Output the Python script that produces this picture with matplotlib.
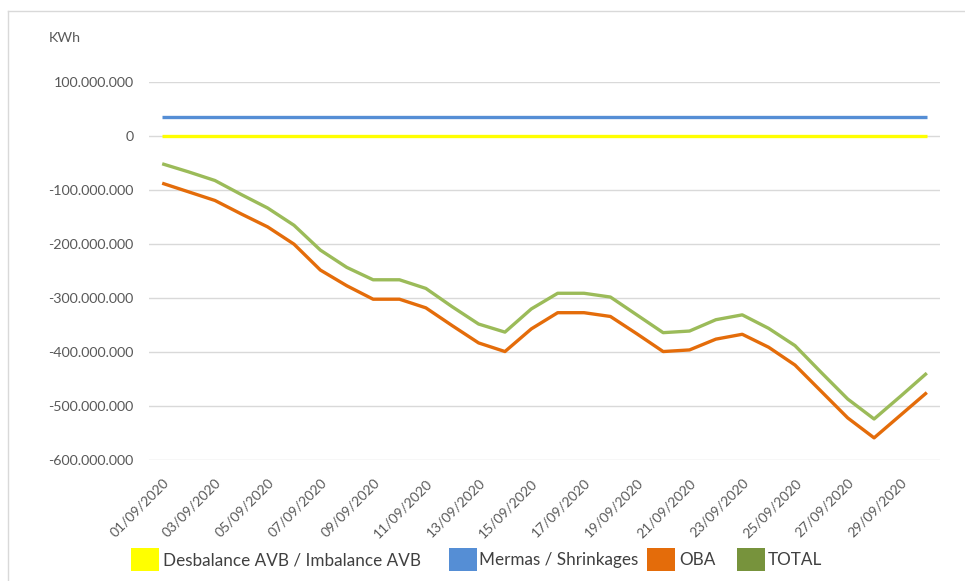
import matplotlib
matplotlib.use("Agg")
import matplotlib.pyplot as plt
from matplotlib.patches import Rectangle
from matplotlib.lines import Line2D
from matplotlib.ticker import FuncFormatter, MultipleLocator

plt.rcParams['font.family'] = ['Lato', 'DejaVu Sans']

dates = [f"{d:02d}/09/2020" for d in range(1, 31)]
imbalance = [0] * 30
mermas = [36e6] * 30
oba = [-87e6, -103e6, -119e6, -144e6, -168e6, -200e6, -248e6, -277e6, -302e6, -302e6,
       -318e6, -351e6, -383e6, -399e6, -357e6, -327e6, -327e6, -334e6, -366e6, -399e6,
       -396e6, -376e6, -367e6, -391e6, -424e6, -473e6, -522e6, -559e6, -517e6, -475e6]
total = [-51e6, -66e6, -82e6, -108e6, -133e6, -165e6, -211e6, -243e6, -266e6, -266e6,
         -282e6, -316e6, -348e6, -363e6, -320e6, -291e6, -291e6, -298e6, -331e6, -364e6,
         -361e6, -340e6, -331e6, -356e6, -388e6, -438e6, -487e6, -524e6, -482e6, -439e6]

series_names = ["Desbalance AVB / Imbalance AVB", "Mermas / Shrinkages", "OBA", "TOTAL"]
line_colors = ["#FFFF00", "#558ED5", "#E46C0A", "#9BBB59"]
legend_colors = ["#FFFF00", "#558ED5", "#E46C0A", "#77933C"]

W, H = 965, 581
fig = plt.figure(figsize=(W / 100, H / 100), dpi=100)
ax = fig.add_axes([149 / W, 1 - 460 / H, (940 - 149) / W, (460 - 82.3) / H])

x = list(range(1, 31))
for vals, c in zip([imbalance, mermas, oba, total], line_colors):
    ax.plot(x, vals, color=c, lw=2.4, solid_capstyle='butt', zorder=3)

ax.set_xlim(0.5, 30.5)
ax.set_ylim(-600e6, 100e6)
ax.yaxis.set_major_locator(MultipleLocator(100e6))

def fmt(v, pos):
    s = f"{abs(int(round(v))):,}".replace(",", ".")
    return ("-" if v < 0 else "") + s
ax.yaxis.set_major_formatter(FuncFormatter(fmt))
ax.grid(axis='y', color='#D9D9D9', lw=1.0, zorder=0)
for sp in ax.spines.values():
    sp.set_visible(False)
ax.tick_params(axis='y', length=0, pad=11, labelsize=10.3, labelcolor='#595959')
ax.tick_params(axis='x', length=0, pad=12, labelsize=10, labelcolor='#595959')
ax.set_xticks(x[::2])
ax.set_xticklabels(dates[::2], rotation=45, ha='right', va='top', rotation_mode='anchor')

fig.text(49 / W, 1 - 38 / H, "KWh", fontsize=10.3, color='#595959', va='center', ha='left')

# chart area border (top and left visible)
fig.add_artist(Line2D([8 / W, 1], [1 - 11 / H, 1 - 11 / H], color='#D9D9D9', lw=1))
fig.add_artist(Line2D([8 / W, 8 / W], [1 - 11 / H, 0], color='#D9D9D9', lw=1))

# legend
box_x = [131, 449, 647, 737]
text_x = [163, 479, 679, 768]
for bx, tx, c, name in zip(box_x, text_x, legend_colors, series_names):
    fig.add_artist(Rectangle((bx / W, 1 - 571 / H), 28 / W, 23 / H, facecolor=c,
                             edgecolor='none', transform=fig.transFigure))
    fig.text(tx / W, 1 - 560 / H, name, fontsize=12.3, color='#404040', va='center', ha='left')

fig.savefig("out.png", dpi=100)
